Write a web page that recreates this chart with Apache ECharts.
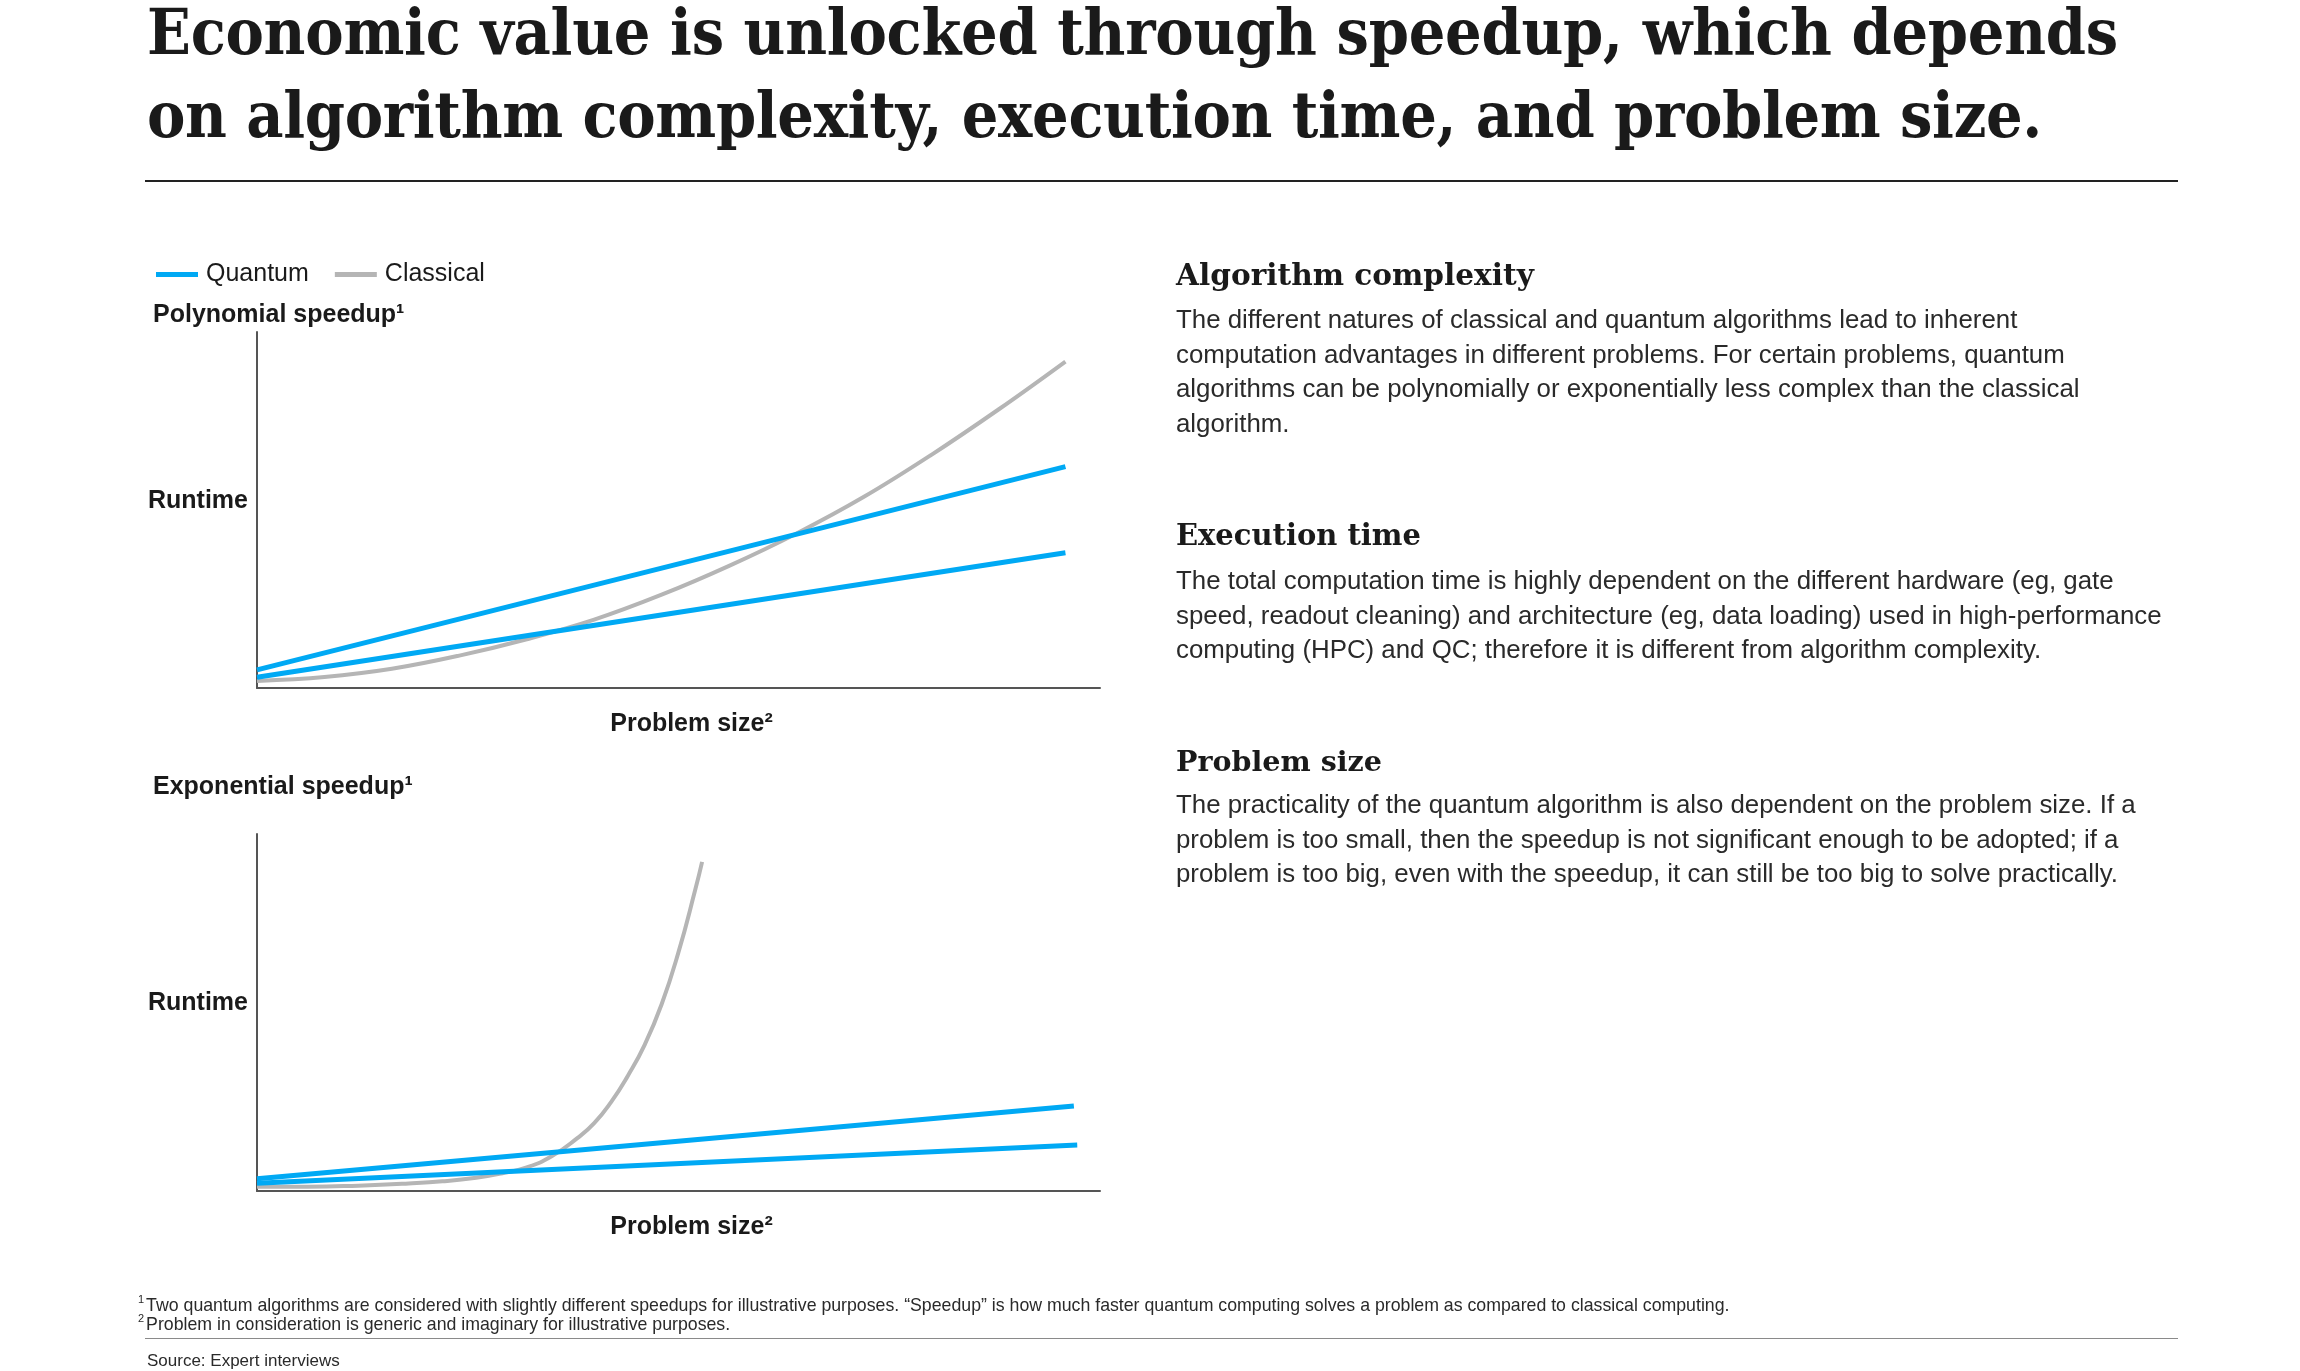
<!DOCTYPE html>
<html>
<head>
<meta charset="utf-8">
<title>Quantum speedup</title>
<script src="https://cdn.jsdelivr.net/npm/echarts@6/dist/echarts.min.js"></script>
<style>
  html, body { margin: 0; padding: 0; background: #fff; }
  #page { position: relative; width: 2300px; height: 1371px; overflow: hidden; }
  #chart { position: absolute; left: 0; top: 0; width: 2300px; height: 1371px; }
  .t { position: absolute; white-space: nowrap; line-height: 1; color: #1f1f1f; z-index: 2; }
  .title { font-family: "DejaVu Serif Condensed", "DejaVu Serif", serif; font-stretch: condensed; font-weight: bold; font-size: 64px; color: #1a1a1a; }
  .head { font-family: "DejaVu Serif", serif; font-weight: bold; font-size: 28px; color: #1a1a1a; }
  .body { font-family: "Liberation Sans", Arial, sans-serif; font-size: 23px; color: #2a2a2a; }
  .note { font-family: "Liberation Sans", Arial, sans-serif; font-size: 17px; color: #2a2a2a; }
  .note sup { font-size: 0.62em; position: relative; top: -1px; margin-right: 2px; }
  .rule { position: absolute; left: 145px; width: 2033px; z-index: 2; }
</style>
</head>
<body>
<div id="page">
  <div id="chart"></div>

  <div class="t title" data-base="54" data-w="1971">Economic value is unlocked through speedup, which depends</div>
  <div class="t title" data-base="137" data-w="1895">on algorithm complexity, execution time, and problem size.</div>
  <div class="rule" style="top:180px;height:2px;background:#222;"></div>

  <div class="t head" data-base="285" data-w="358">Algorithm complexity</div>
  <div class="t body" data-base="329" data-w="845">The different natures of classical and quantum algorithms lead to inherent</div>
  <div class="t body" data-base="363.5" data-w="898">computation advantages in different problems. For certain problems, quantum</div>
  <div class="t body" data-base="398" data-w="901">algorithms can be polynomially or exponentially less complex than the classical</div>
  <div class="t body" data-base="432.5" data-w="116">algorithm.</div>

  <div class="t head" data-base="546" data-w="245">Execution time</div>
  <div class="t body" data-base="590" data-w="941">The total computation time is highly dependent on the different hardware (eg, gate</div>
  <div class="t body" data-base="624.5" data-w="986">speed, readout cleaning) and architecture (eg, data loading) used in high-performance</div>
  <div class="t body" data-base="659" data-w="867">computing (HPC) and QC; therefore it is different from algorithm complexity.</div>

  <div class="t head" data-base="771.5" data-w="206">Problem size</div>
  <div class="t body" data-base="814" data-w="955">The practicality of the quantum algorithm is also dependent on the problem size. If a</div>
  <div class="t body" data-base="848.5" data-w="938">problem is too small, then the speedup is not significant enough to be adopted; if a</div>
  <div class="t body" data-base="883" data-w="936">problem is too big, even with the speedup, it can still be too big to solve practically.</div>

  <div class="t note fn" id="fn1" data-base="1310" style="left:138px;"><sup>1</sup>Two quantum algorithms are considered with slightly different speedups for illustrative purposes. “Speedup” is how much faster quantum computing solves a problem as compared to classical computing.</div>
  <div class="t note fn" data-base="1329" style="left:138px;"><sup>2</sup>Problem in consideration is generic and imaginary for illustrative purposes.</div>
  <div class="rule" style="top:1338px;height:1px;background:#8a8a8a;"></div>
  <div class="t note" data-base="1366.5" style="left:147px;">Source: Expert interviews</div>
</div>

<script>
// colours
const BLUE = '#00A9F4';
const GRAY = '#B5B5B5';

// legend
const legendNames = ['Quantum', 'Classical'];

// polynomial speedup panel (problem size vs runtime, 0-100 scale)
const polyClassicalX = [0, 8, 16, 24, 32, 40, 48, 56, 64, 72, 80, 88, 95.9];
const polyClassicalY = [2.0, 3.1, 5.4, 9.1, 13.7, 19.2, 26.2, 34.3, 43.4, 53.7, 65.5, 78.3, 91.7];
const polyQuantumX = [0, 95.9];
const polyQuantumFast = [5.1, 62.2];
const polyQuantumSlow = [3.0, 38.0];

// exponential speedup panel
const expClassicalX = [0, 6, 12, 18, 22, 26, 29, 32, 35, 38, 40, 42, 44, 46, 48, 50, 52, 52.8];
const expClassicalY = [1.2, 1.2, 1.5, 2.1, 2.7, 3.7, 4.9, 6.6, 9.8, 14.8, 19.0, 24.9, 32.3, 41.0, 52.3, 66.9, 84.5, 92.2];
const expQuantumAX = [0, 96.9];
const expQuantumA = [3.4, 23.8];
const expQuantumBX = [0, 97.3];
const expQuantumB = [2.2, 12.9];

const axisName = 'Runtime';
const sizeName = 'Problem size²';
const panelTitles = ['Polynomial speedup¹', 'Exponential speedup¹'];

const zip = (xs, ys) => xs.map((x, i) => [x, ys[i]]);

const labelFont = { fontFamily: 'Liberation Sans', fontSize: 25, fontWeight: 'bold', color: '#1a1a1a' };

const makeX = i => ({
  gridIndex: i,
  type: 'value',
  min: 0,
  max: 100,
  name: sizeName,
  nameLocation: 'middle',
  nameGap: 24,
  nameTextStyle: Object.assign({ padding: [0, 0, 0, 26] }, labelFont),
  axisLine: { show: true, onZero: false, lineStyle: { color: '#555', width: 2 } },
  axisTick: { show: false },
  axisLabel: { show: false },
  splitLine: { show: false }
});

const makeY = i => ({
  gridIndex: i,
  type: 'value',
  min: 0,
  max: 100,
  name: axisName,
  nameLocation: 'middle',
  nameRotate: 0,
  nameGap: 9,
  nameTextStyle: Object.assign({ verticalAlign: 'bottom', lineHeight: 18 }, labelFont),
  axisLine: { show: true, onZero: false, lineStyle: { color: '#555', width: 2 } },
  axisTick: { show: false },
  axisLabel: { show: false },
  splitLine: { show: false }
});

const lineSeries = (name, idx, data, color, width, smooth) => ({
  name: name,
  type: 'line',
  xAxisIndex: idx,
  yAxisIndex: idx,
  data: data,
  smooth: smooth,
  showSymbol: false,
  silent: true,
  itemStyle: { color: color },
  lineStyle: { color: color, width: width }
});

const chart = echarts.init(document.getElementById('chart'));

chart.setOption({
  animation: false,
  legend: {
    data: legendNames,
    left: 151,
    top: 257,
    icon: 'rect',
    itemWidth: 42,
    itemHeight: 5,
    itemGap: 26,
    selectedMode: false,
    textStyle: { fontFamily: 'Liberation Sans', fontSize: 25, color: '#1a1a1a', padding: [0, 0, 0, 3] }
  },
  grid: [
    { left: 257, top: 332, width: 843, height: 356 },
    { left: 257, top: 834, width: 843, height: 357 }
  ],
  xAxis: [makeX(0), makeX(1)],
  yAxis: [makeY(0), makeY(1)],
  graphic: [
    { type: 'text', x: 153, y: 315, style: { text: panelTitles[0], font: 'bold 25px "Liberation Sans"', fill: '#1a1a1a', verticalAlign: 'middle' } },
    { type: 'text', x: 153, y: 787, style: { text: panelTitles[1], font: 'bold 25px "Liberation Sans"', fill: '#1a1a1a', verticalAlign: 'middle' } }
  ],
  series: [
    lineSeries('Classical', 0, zip(polyClassicalX, polyClassicalY), GRAY, 4, 0.4),
    lineSeries('Quantum', 0, zip(polyQuantumX, polyQuantumFast), BLUE, 5, false),
    lineSeries('Quantum', 0, zip(polyQuantumX, polyQuantumSlow), BLUE, 5, false),
    lineSeries('Classical', 1, zip(expClassicalX, expClassicalY), GRAY, 4, 0.5),
    lineSeries('Quantum', 1, zip(expQuantumAX, expQuantumA), BLUE, 5, false),
    lineSeries('Quantum', 1, zip(expQuantumBX, expQuantumB), BLUE, 5, false)
  ]
});

// place html text by baseline; title gets letter spacing fitted,
// headings, body and footnotes get a font size fitted to the measured widths
function placeAll() {
  document.querySelectorAll('.t').forEach(el => {
    const fs = parseFloat(getComputedStyle(el).fontSize);
    el.style.top = (parseFloat(el.dataset.base) - 0.846 * fs) + 'px';
    if (!el.style.left) el.style.left = el.classList.contains('title') ? '147px' : '1176px';
  });
}

function layoutText() {
  document.querySelectorAll('.title').forEach(el => {
    el.style.letterSpacing = '0px';
    const w = el.getBoundingClientRect().width;
    el.style.letterSpacing = ((parseFloat(el.dataset.w) - w) / el.textContent.length) + 'px';
  });

  document.querySelectorAll('.head').forEach(el => {
    el.style.fontSize = '28px';
    const w = el.getBoundingClientRect().width;
    el.style.fontSize = Math.min(31, 28 * parseFloat(el.dataset.w) / w) + 'px';
  });

  const bodies = Array.from(document.querySelectorAll('.body'));
  bodies.forEach(el => { el.style.fontSize = '23px'; });
  let want = 0, got = 0;
  bodies.forEach(el => { want += parseFloat(el.dataset.w); got += el.getBoundingClientRect().width; });
  const bodySize = 23 * want / got;
  bodies.forEach(el => { el.style.fontSize = bodySize + 'px'; });

  const fn1 = document.getElementById('fn1');
  fn1.style.fontSize = '17px';
  const fnSize = 17 * 1593 / fn1.getBoundingClientRect().width;
  document.querySelectorAll('.fn').forEach(el => { el.style.fontSize = fnSize + 'px'; });

  placeAll();
}
layoutText();
if (document.fonts && document.fonts.ready) document.fonts.ready.then(layoutText);
</script>
</body>
</html>
